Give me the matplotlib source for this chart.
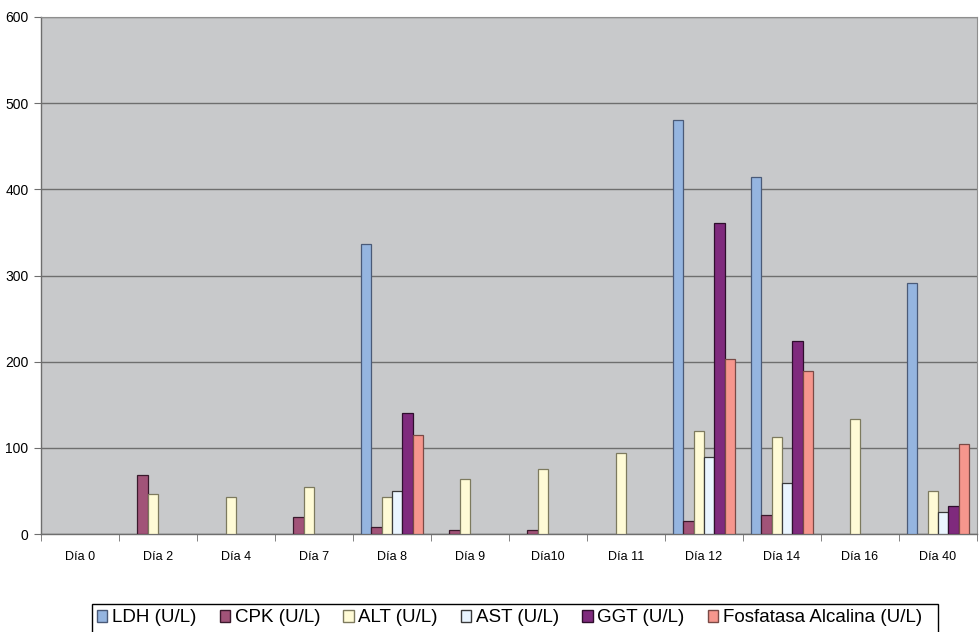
import numpy as np
import matplotlib
matplotlib.use("Agg")
import matplotlib.pyplot as plt
from matplotlib.patches import Patch, Rectangle

plt.rcParams['font.family'] = ['Liberation Sans', 'DejaVu Sans']

dias = ["Día 0", "Día 2", "Día 4", "Día 7", "Día 8", "Día 9", "Día10",
        "Día 11", "Día 12", "Día 14", "Día 16", "Día 40"]

ldh = [0, 0, 0, 0, 337, 0, 0, 0, 481, 414, 0, 291]
cpk = [0, 68, 0, 20, 8, 5, 5, 0, 15, 22, 0, 0]
alt = [0, 47, 43, 54, 43, 64, 75, 94, 119, 112, 133, 50]
ast = [0, 0, 0, 0, 50, 0, 0, 0, 89, 59, 0, 26]
ggt = [0, 0, 0, 0, 140, 0, 0, 0, 361, 224, 0, 33]
fosfatasa = [0, 0, 0, 0, 115, 0, 0, 0, 203, 189, 0, 105]

series = [
    ("LDH (U/L)", ldh, "#95B5E0", "#4a5a78"),
    ("CPK (U/L)", cpk, "#A15378", "#3a1a2c"),
    ("ALT (U/L)", alt, "#FFFBD6", "#7d7a5e"),
    ("AST (U/L)", ast, "#EAF5FF", "#3a3a3a"),
    ("GGT (U/L)", ggt, "#7F2A7D", "#2e0e2c"),
    ("Fosfatasa Alcalina (U/L)", fosfatasa, "#F6968D", "#7a4a46"),
]

W, H = 980, 632
fig = plt.figure(figsize=(W / 100, H / 100), dpi=100)
ax = fig.add_axes([41 / W, 1 - 534 / H, 936 / W, 517 / H])
ax.set_facecolor("#C8C9CB")

n = len(series)
width = 1.0 / (n + 1.5)
x = np.arange(len(dias))
for i, (name, vals, fc, ec) in enumerate(series):
    pos = x - 0.5 + 0.75 * width + (i + 0.5) * width
    vals = np.array(vals, dtype=float)
    mask = vals > 0
    ax.bar(pos[mask], vals[mask], width=width, color=fc, edgecolor=ec,
           linewidth=0.9, zorder=3)

ax.set_xlim(-0.5, len(dias) - 0.5)
ax.set_ylim(0, 600)
ax.set_yticks(np.arange(0, 601, 100))
ax.yaxis.grid(True, color="#6e6e6e", linewidth=1.0, zorder=1)
ax.set_axisbelow(True)

ax.set_xticks(x)
ax.set_xticklabels(dias, fontsize=9)
ax.set_xticks(np.arange(-0.5, len(dias)), minor=True)
ax.tick_params(axis="x", which="major", length=0, pad=12)
ax.tick_params(axis="x", which="minor", length=5, color="#6e6e6e", direction="out")
ax.tick_params(axis="y", length=5, color="#6e6e6e", labelsize=10, pad=4)

for side in ["left", "bottom"]:
    ax.spines[side].set_color("#6e6e6e")
    ax.spines[side].set_linewidth(1.0)
for side in ["top", "right"]:
    ax.spines[side].set_color("#8e8e8e")
    ax.spines[side].set_linewidth(0.8)

# legend box along the bottom edge (runs past the lower border)
lx0, lx1, ly0 = 92, 938, 604
fig.patches.append(Rectangle((lx0 / W, -0.02), (lx1 - lx0) / W, (H - ly0) / H + 0.02,
                             transform=fig.transFigure, facecolor="white",
                             edgecolor="black", linewidth=1.0, zorder=0))

handles = [Patch(facecolor=fc, edgecolor=ec, linewidth=1.0, label=name)
           for name, _, fc, ec in series]
leg = fig.legend(handles=handles, loc="center left",
                 bbox_to_anchor=(97 / W, 1 - 618 / H, (922 - 97) / W, 0),
                 mode="expand", ncol=6, fontsize=13.5, frameon=False,
                 handlelength=0.55, handleheight=0.55, handletextpad=0.25,
                 columnspacing=0.8, borderpad=0.0, borderaxespad=0)

fig.savefig("out.png", dpi=100)
